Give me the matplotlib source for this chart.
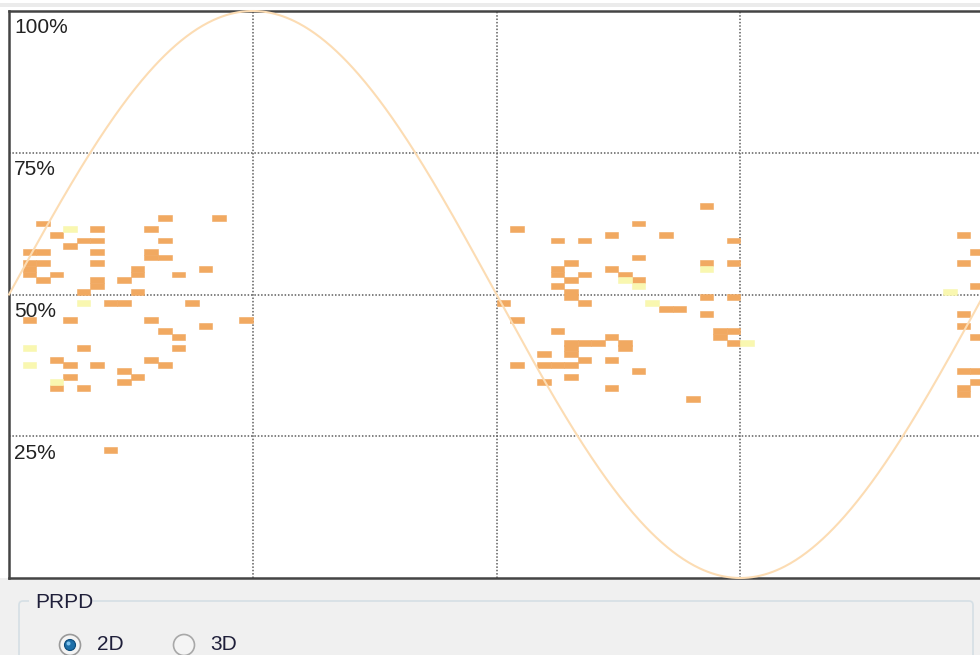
import numpy as np
import matplotlib.pyplot as plt
from matplotlib.patches import FancyBboxPatch, Rectangle, Circle

# phase (deg, left edge of 5 deg bin) / amplitude (% , lower edge of 1 % bin)
orange_phase = [55, 75, 10, 30, 50, 15, 25, 30, 55, 20, 5, 10, 30, 50, 50, 55,
                5, 10, 30, 5, 45, 70, 5, 15, 45, 60, 10, 30, 40, 30, 25, 45,
                35, 40, 65, 5, 20, 50, 85, 70, 55, 60, 25, 60, 15, 50, 20, 30,
                55, 40, 20, 45, 40, 15, 25, 35,
                255, 230, 185, 220, 240, 200, 210, 265, 230, 205, 255, 265,
                200, 220, 200, 210, 225, 205, 230, 200, 205, 205, 255, 265,
                180, 210, 240, 245, 255, 185, 200, 260, 265, 220, 260, 205,
                210, 215, 225, 265, 205, 225, 195, 205, 210, 220, 185, 195,
                200, 205, 230, 205, 195, 220, 250,
                350, 355, 350, 355, 350, 350, 355, 350, 355, 355, 350, 350]
orange_amp = [63, 63, 62, 61, 61, 60, 59, 59, 59, 58, 57, 57, 57, 57, 56, 56,
              55, 55, 55, 54, 54, 54, 53, 53, 53, 53, 52, 52, 52, 51, 50, 50,
              48, 48, 48, 45, 45, 45, 45, 44, 43, 42, 40, 40, 38, 38, 37, 37,
              37, 36, 35, 35, 34, 33, 33, 22,
              65, 62, 61, 60, 60, 59, 59, 59, 56, 55, 55, 55,
              54, 54, 53, 53, 53, 52, 52, 51, 50, 49, 49, 49,
              48, 48, 47, 47, 46, 45, 43, 43, 43, 42, 42, 41,
              41, 41, 41, 41, 40, 40, 39, 39, 38, 38, 37, 37,
              37, 37, 36, 35, 34, 33, 31,
              60, 57, 55, 51, 46, 44, 42, 36, 36, 34, 33, 32]

yellow_phase = [20, 25, 5, 5, 15, 255, 225, 230, 235, 270, 345]
yellow_amp = [61, 48, 40, 37, 34, 54, 52, 51, 48, 41, 50]

level_labels = ["100%", "75%", "50%", "25%"]
level_values = [100, 75, 50, 25]
phase_grid = [90, 180, 270]

W, H = 980, 655
fig = plt.figure(figsize=(W / 100, H / 100), dpi=100)
fig.patch.set_facecolor("white")

# window background in pixel coords
bg = fig.add_axes([0, 0, 1, 1], zorder=0)
bg.set_xlim(0, W)
bg.set_ylim(H, 0)
bg.axis("off")
bg.add_patch(Rectangle((0, 578), W, H - 578, color="#F0F0F0", lw=0))
bg.add_patch(Rectangle((0, 3), W, 4, color="#EBEBEB", lw=0))

# PRPD group box
bg.add_patch(FancyBboxPatch((19, 601), 954, 80, boxstyle="round,pad=0,rounding_size=4",
                            fc="none", ec="#D5DFE5", lw=1.2))
bg.add_patch(Rectangle((29, 592), 64, 16, color="#F0F0F0", lw=0))
bg.text(35, 602, "PRPD", fontsize=15, family="Liberation Sans", color="#1F1F3A",
        va="center", ha="left")

# radio buttons
bg.add_patch(Circle((70, 645), 10.5, fc="#F4F4F4", ec="#9A9A9A", lw=1.2))
bg.add_patch(Circle((70, 645), 5.5, fc="#1E6FA8", ec="#0B4A7A", lw=0.8))
bg.add_patch(Circle((68.5, 643.5), 2, fc="#7FC3EE", ec="none"))
bg.add_patch(Circle((184, 645), 10.5, fc="#F4F4F4", ec="#A8A8A8", lw=1.2))
bg.text(97, 645, "2D", fontsize=15, family="Liberation Sans", color="#1F1F3A", va="center")
bg.text(210, 645, "3D", fontsize=15, family="Liberation Sans", color="#1F1F3A", va="center")

# plot area: x 9..984 px (right edge runs off the window), y 11..578 px
ax = fig.add_axes([9 / W, (H - 578) / H, 975 / W, 567 / H], zorder=1)
ax.set_xlim(0, 360)
ax.set_ylim(0, 100)
ax.set_xticks([])
ax.set_yticks([])
for s in ax.spines.values():
    s.set_color("#444444")
    s.set_linewidth(1.8)

dot = (0, (1, 1.2))
for x in phase_grid:
    ax.axvline(x, color="#5E5E5E", lw=1.1, ls=dot, zorder=1)
for y in level_values[1:]:
    ax.axhline(y, color="#5E5E5E", lw=1.1, ls=dot, zorder=1)

ax.bar(orange_phase, 1.05, width=5, bottom=orange_amp, align="edge",
       color="#F1A961", ec="#F1A961", lw=0.4, zorder=2)
ax.bar(yellow_phase, 1.05, width=5, bottom=yellow_amp, align="edge",
       color="#F9F7B0", ec="#F9F7B0", lw=0.4, zorder=2)

# reference sine for the supply voltage
ph = np.linspace(0, 360, 721)
ax.plot(ph, 50 + 50 * np.sin(np.radians(ph)), color="#FCDCB3", lw=1.5,
        zorder=3, clip_on=False)

for lab, v in zip(level_labels, level_values):
    ax.text(1.8, v - 1.3, lab, fontsize=15, family="Liberation Sans",
            color="#222222", va="top", ha="left", zorder=4)

fig.savefig("out.png", dpi=100)
